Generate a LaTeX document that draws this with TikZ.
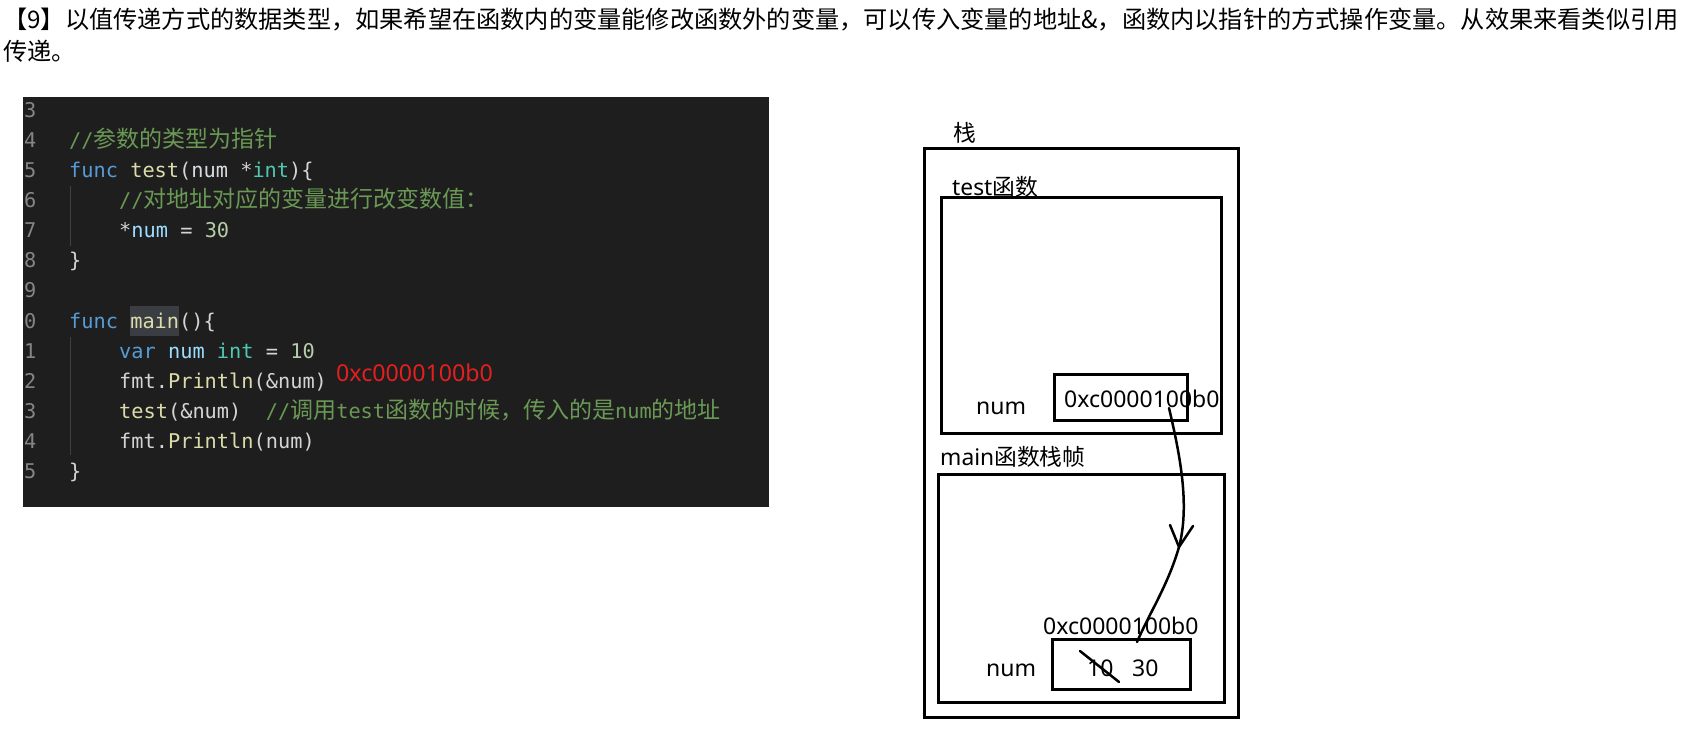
\documentclass[tikz,border=0pt]{standalone}
\usepackage{fontspec}
\setmainfont{Noto Sans}
\newfontfamily\cjk{Noto Sans CJK SC}
\newfontfamily\codefont{DejaVu Sans Mono}
\definecolor{cbg}{HTML}{1E1E1E}
\definecolor{cln}{HTML}{858585}
\definecolor{ccom}{HTML}{6A9955}
\definecolor{ckw}{HTML}{569CD6}
\definecolor{cfn}{HTML}{DCDCAA}
\definecolor{cvar}{HTML}{9CDCFE}
\definecolor{ctype}{HTML}{4EC9B0}
\definecolor{cnum}{HTML}{B5CEA8}
\definecolor{ctxt}{HTML}{D4D4D4}
\definecolor{cpar}{HTML}{D8DCE0}
\definecolor{chl}{HTML}{3A3D41}
\definecolor{cguide}{HTML}{404040}
\definecolor{cred}{HTML}{E3201E}
\newcommand\ccol[2]{\textcolor{#1}{#2}}
\newcommand\czh[1]{{\cjk\fontsize{23}{24}\selectfont #1}}
\tikzset{
  title/.style={anchor=base west, inner sep=0pt, font=\cjk\fontsize{24.2}{32}\selectfont, text=black},
  code/.style={anchor=base west, inner sep=0pt, font=\codefont\fontsize{20.3}{24}\selectfont, text=ctxt},
  lnum/.style={anchor=base west, inner sep=0pt, font=\codefont\fontsize{20.3}{24}\selectfont, text=cln},
  dtxt/.style={anchor=base west, inner sep=0pt, font=\fontsize{23}{27}\selectfont, text=black},
  dcjk/.style={anchor=base west, inner sep=0pt, font=\fontsize{22.8}{27}\selectfont, text=black},
  box/.style={draw=black, line width=3pt, inner sep=0pt, fill=none},
  conn/.style={draw=black, line width=2.5pt, line cap=round},
  guide/.style={draw=cguide, line width=1pt},
}
\begin{document}
\begin{tikzpicture}[x=1pt, y=-1pt]
\useasboundingbox (0,0) rectangle (1700,751);
\fill[white] (0,0) rectangle (1700,751);

% title
\node[title] (t1) at (3,29) {【9】以值传递方式的数据类型，如果希望在函数内的变量能修改函数外的变量，可以传入变量的地址\&，函数内以指针的方式操作变量。从效果来看类似引用};
\node[title] (t2) at (3,61) {传递。};

% code block
\node[fill=cbg, inner sep=0pt, minimum width=746pt, minimum height=410pt] (codebg) at (396,302) {};
\node[fill=chl, inner sep=0pt, minimum width=49pt, minimum height=30pt] (hl) at (154.5,321) {};
\draw[guide] (70,186) -- (70,246);
\draw[guide] (70,337) -- (70,455);

\node[lnum] (n0) at (24,118) {3};
\node[lnum] (n1) at (24,148) {4};
\node[lnum] (n2) at (24,178) {5};
\node[lnum] (n3) at (24,208) {6};
\node[lnum] (n4) at (24,238) {7};
\node[lnum] (n5) at (24,268) {8};
\node[lnum] (n6) at (24,298) {9};
\node[lnum] (n7) at (24,328) {0};
\node[lnum] (n8) at (24,358) {1};
\node[lnum] (n9) at (24,388) {2};
\node[lnum] (n10) at (24,418) {3};
\node[lnum] (n11) at (24,448) {4};
\node[lnum] (n12) at (24,478) {5};

\node[code] (c1) at (69,148) {\ccol{ccom}{//\czh{参数的类型为指针}}};
\node[code] (c2) at (69,178) {\ccol{ckw}{func}\ \ccol{cfn}{test}(\ccol{cpar}{num}\ *\ccol{ctype}{int})\{};
\node[code] (c3) at (119,208) {\ccol{ccom}{//\czh{对地址对应的变量进行改变数值：}}};
\node[code] (c4) at (119,238) {*\ccol{cvar}{num}\ =\ \ccol{cnum}{30}};
\node[code] (c5) at (69,268) {\}};
\node[code] (c7) at (69,328) {\ccol{ckw}{func}\ \ccol{cfn}{main}()\{};
\node[code] (c8) at (119,358) {\ccol{ckw}{var}\ \ccol{cvar}{num}\ \ccol{ctype}{int}\ =\ \ccol{cnum}{10}};
\node[code] (c9) at (119,388) {fmt.\ccol{cfn}{Println}(\&num)};
\node[code] (c10) at (119,418) {\ccol{cfn}{test}(\&num)\ \ \ccol{ccom}{//\czh{调用}test\czh{函数的时候，传入的是}num\czh{的地址}}};
\node[code] (c11) at (119,448) {fmt.\ccol{cfn}{Println}(num)};
\node[code] (c12) at (69,478) {\}};
\node[dtxt, text=cred, font=\fontsize{23.2}{27}\selectfont] (red) at (336,381) {0xc0000100b0};

% stack diagram
\node[box, minimum width=314pt, minimum height=568pt] (stack) at (1081,433) {};
\node[box, minimum width=280pt, minimum height=235pt] (testf) at (1081,315.5) {};
\node[box, minimum width=133pt, minimum height=46pt] (tnum) at (1120.5,397) {};
\node[box, minimum width=286pt, minimum height=228pt] (mainf) at (1081,588) {};
\node[box, minimum width=138pt, minimum height=50pt] (mnum) at (1121,664) {};

\node[dcjk] (lstack) at (953,142) {\cjk 栈};
\node[dcjk] (ltest) at (952,196) {test\cjk 函数};
\node[dcjk] (lmain) at (940,465) {main\cjk 函数栈帧};
\node[dtxt] (tnumlbl) at (976,414) {num};
\node[dtxt] (taddr) at (1064,407) {0xc0000100b0};
\node[dtxt] (maddr) at (1043,634) {0xc0000100b0};
\node[dtxt] (mnumlbl) at (986,676) {num};
\node[dtxt] (v10) at (1087,676) {10};
\node[dtxt] (v30) at (1132,676) {30};

\coordinate (s1) at (1080,651);
\coordinate (s2) at (1119,682);
\draw[conn] (s1) -- (s2);

\coordinate (a0) at (1169,408);
\coordinate (tip) at (1179,547);
\coordinate (a2) at (1137,642);
\coordinate (h1) at (1170,525);
\coordinate (h2) at (1193,526);
\draw[conn] (a0) .. controls (1180,455) and (1190,505) .. (tip);
\draw[conn] (tip) .. controls (1168,585) and (1150,612) .. (a2);
\draw[conn, line join=round] (h1) -- (tip) -- (h2);
\end{tikzpicture}
\end{document}
